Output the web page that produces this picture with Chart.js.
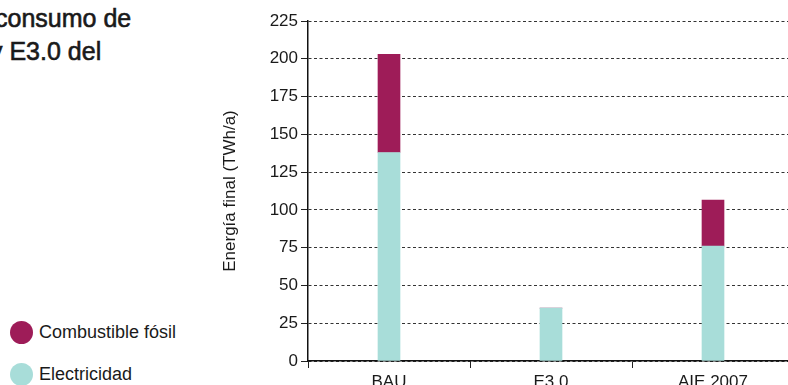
<!DOCTYPE html>
<html lang="es">
<head>
<meta charset="UTF-8" />
<title>Energía final</title>
<script src="https://cdn.jsdelivr.net/npm/chart.js"></script>
<style>
  body {
    margin: 0;
    width: 788px;
    height: 385px;
    overflow: hidden;
    position: relative;
    background: #fff;
    font-family: "Liberation Sans", Arial, sans-serif;
    color: #1a1a1a;
  }
  .title {
    position: absolute;
    left: 0;
    top: 2px;
    font-size: 25px;
    line-height: 33px;
    white-space: nowrap;
    -webkit-text-stroke: 0.6px #1a1a1a;
  }
  .title div:first-child { margin-left: -5px; }
  .title div:last-child { margin-left: -10px; }
  .legend {
    position: absolute;
    left: 10px;
    top: 321px;
    font-size: 18px;
  }
  .legend div {
    display: flex;
    align-items: center;
    height: 23px;
    margin-bottom: 19px;
  }
  .legend span {
    display: inline-block;
    width: 23px;
    height: 23px;
    border-radius: 50%;
    margin-right: 6px;
  }
  #wrap {
    position: absolute;
    left: 200px;
    top: 0;
    width: 600px;
    height: 400px;
  }
</style>
</head>
<body>
<div class="title"><div>consumo de</div><div>y E3.0 del</div></div>
<div class="legend">
  <div><span style="background:#9e1c58"></span>Combustible fósil</div>
  <div><span style="background:#a8ddd9"></span>Electricidad</div>
</div>
<div id="wrap"><canvas id="chart" width="600" height="400"></canvas></div>
<script>
  const categories = ["BAU", "E3.0", "AIE 2007"];
  const electricidad = [138, 35, 76];
  const fosil = [65, 0, 30.5];
  const yTicks = [0, 25, 50, 75, 100, 125, 150, 175, 200, 225];

  const tickFont = { family: "Liberation Sans, Arial, sans-serif", size: 17 };

  new Chart(document.getElementById("chart"), {
    type: "bar",
    data: {
      labels: categories,
      datasets: [
        { label: "Electricidad", data: electricidad, backgroundColor: "#a8ddd9", barThickness: 22 },
        { label: "Combustible fósil", data: fosil, backgroundColor: "#9e1c58", barThickness: 22 }
      ]
    },
    options: {
      responsive: false,
      animation: false,
      layout: { padding: { top: 21, right: 6, left: 0, bottom: 0 } },
      plugins: { legend: { display: false }, tooltip: { enabled: false } },
      scales: {
        x: {
          stacked: true,
          grid: { offset: true, drawOnChartArea: false, color: "#222", tickLength: 7 },
          border: { color: "#111", width: 1.5 },
          ticks: { color: "#1a1a1a", font: tickFont, padding: 4 },
          afterFit: (s) => { s.height = 39; }
        },
        y: {
          stacked: true,
          min: 0,
          max: 225,
          afterBuildTicks: (s) => { s.ticks = yTicks.map(v => ({ value: v })); },
          grid: { color: "#333", tickColor: "#222", tickLength: 7, tickBorderDash: [] },
          border: { color: "#111", width: 1.5, dash: [3, 2.5] },
          ticks: { color: "#1a1a1a", font: tickFont, padding: 3 },
          title: {
            display: true,
            text: "Energía final (TWh/a)",
            color: "#1a1a1a",
            font: tickFont,
            padding: { top: 20, bottom: 0 }
          },
          afterFit: (s) => { s.width = 108; }
        }
      }
    }
  });
</script>
</body>
</html>
